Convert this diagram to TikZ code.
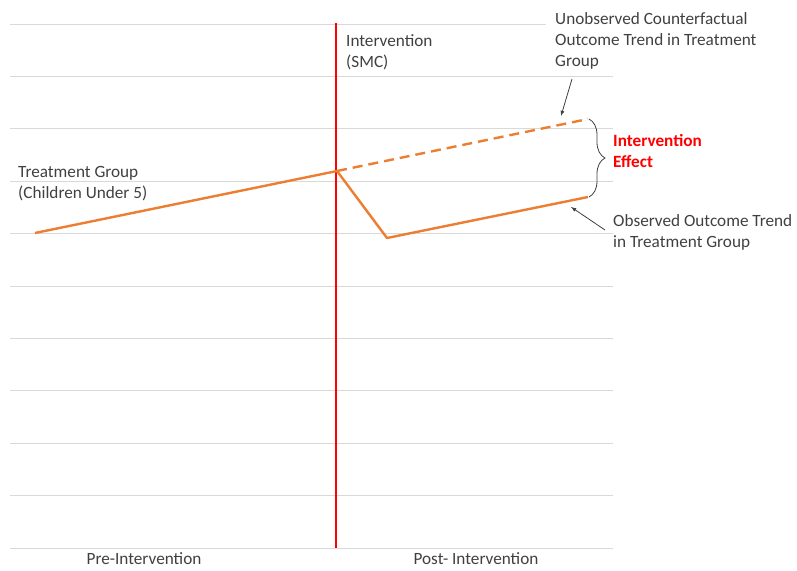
\documentclass[tikz,border=0pt]{standalone}
\usepackage{fontspec}
\setmainfont{Carlito}
\usetikzlibrary{positioning,decorations.pathreplacing}
\definecolor{trendorange}{RGB}{237,125,49}
\definecolor{gridgray}{RGB}{217,217,217}
\definecolor{textgray}{RGB}{64,64,64}

\begin{document}
\begin{tikzpicture}[x=1pt,y=-1pt]
\tikzstyle{grid}=[draw=gridgray, line width=1pt]
\tikzstyle{trend}=[draw=trendorange, line width=2.4pt]
\tikzstyle{lbl}=[font=\fontsize{17.2}{21}\selectfont, align=left, inner sep=0pt, text=textgray]
\tikzstyle{connect}=[-latex, line width=0.8pt, draw=textgray]
\useasboundingbox (0,0) rectangle (797,570);
% grid
\draw[grid] (10,24) -- (546,24);
\foreach \k in {1,...,10}
  \draw[grid] (10,24+52.4*\k) -- (613,24+52.4*\k);
% intervention line
\coordinate (vTop) at (336,23);
\coordinate (vBot) at (336,548);
\draw[draw=red, line width=2pt] (vTop) -- (vBot);
% trend points
\coordinate (p0) at (35,233);
\coordinate (p1) at (337,171);
\coordinate (p2) at (387,238);
\coordinate (p3) at (588,197);
\coordinate (p4) at (588,119);
\draw[trend, line join=round] (p0) -- (p1) -- (p2) -- (p3);
\draw[trend, dash pattern=on 10pt off 6pt] (p1) -- (p4);
% labels
\node[lbl, anchor=west] (treat) at (18,183.5) {Treatment Group\\(Children Under 5)};
\node[lbl, anchor=west] (smc) at (346,52.5) {Intervention\\(SMC)};
\node[lbl, anchor=west] (cf) at (555,40.5) {Unobserved Counterfactual\\Outcome Trend in Treatment\\Group};
\node[lbl, anchor=west] (obs) at (613,232.5) {Observed Outcome Trend\\in Treatment Group};
\node[lbl, anchor=center] (pre) at (144,559) {Pre-Intervention};
\node[lbl, anchor=center] (post) at (476,559) {Post- Intervention};
% brace
\coordinate (bTop) at (589,119);
\coordinate (bBot) at (589,197);
\draw[draw=textgray, line width=0.8pt, decorate, decoration={brace, amplitude=16pt}] (bTop) -- (bBot);
\coordinate (bMid) at (605,158);
\node[lbl, text=red, font=\fontsize{17.2}{21}\selectfont\bfseries, right=8pt of bMid, yshift=7pt] (effect) {Intervention\\Effect};
% arrows
\coordinate (cfTail) at (572,79);
\coordinate (cfTip) at (561,116);
\coordinate (obsTail) at (605,230);
\coordinate (obsTip) at (571,207);
\draw[connect] (cfTail) -- (cfTip);
\draw[connect] (obsTail) -- (obsTip);
\end{tikzpicture}
\end{document}
